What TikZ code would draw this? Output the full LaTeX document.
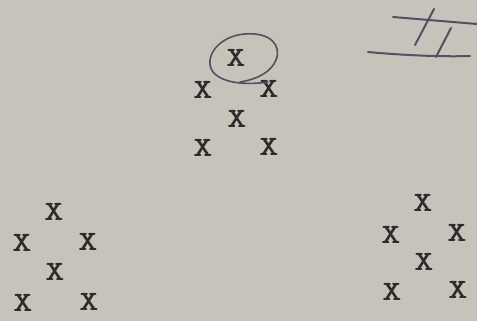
\documentclass[tikz,border=0pt]{standalone}
\usepackage{fontspec}
\usepackage{graphicx}
\newcommand{\tx}{\scalebox{1.3}[1.0]{X}}
\begin{document}
\begin{tikzpicture}[x=1pt,y=-1pt,
  typed/.style={font=\ttfamily\bfseries\fontsize{28}{28}\selectfont, text=inkdark, inner sep=0pt},
  pencil/.style={draw=pencilc, line width=1.6pt, line cap=round}]
\definecolor{paper}{RGB}{200,195,186}
\definecolor{inkdark}{RGB}{45,43,43}
\definecolor{pencilc}{RGB}{84,80,98}
\fill[paper] (0,0) rectangle (477,321);
\useasboundingbox (0,0) rectangle (477,321);
% top group
\node[typed] (t1) at (236,58) {\tx};
\node[typed] (t2) at (203,90) {\tx};
\node[typed] (t3) at (269,89) {\tx};
\node[typed] (t4) at (237,119) {\tx};
\node[typed] (t5) at (203,148) {\tx};
\node[typed] (t6) at (269,147) {\tx};
% left group
\node[typed] (l1) at (54,212) {\tx};
\node[typed] (l2) at (22,243) {\tx};
\node[typed] (l3) at (88,242) {\tx};
\node[typed] (l4) at (55,272) {\tx};
\node[typed] (l5) at (23,303) {\tx};
\node[typed] (l6) at (89,302) {\tx};
% right group
\node[typed] (r1) at (423,203) {\tx};
\node[typed] (r2) at (391,235) {\tx};
\node[typed] (r3) at (457,233) {\tx};
\node[typed] (r4) at (424,262) {\tx};
\node[typed] (r5) at (392,292) {\tx};
\node[typed] (r6) at (458,290) {\tx};
% hand-drawn circle around t1
\draw[pencil] (268,82) .. controls (255,84) and (225,86) .. (213,72)
  .. controls (203,58) and (218,36) .. (245,34)
  .. controls (270,32) and (282,45) .. (276,60)
  .. controls (271,72) and (258,79) .. (240,82);
% handwritten II mark
\draw[pencil, line width=2pt] (393,17) -- (477,24);
\draw[pencil, line width=2pt] (368,52) .. controls (400,55) and (440,57) .. (470,56);
\draw[pencil, line width=2pt] (434,9) -- (415,45);
\draw[pencil, line width=2pt] (451,28) -- (436,57);
\end{tikzpicture}
\end{document}
